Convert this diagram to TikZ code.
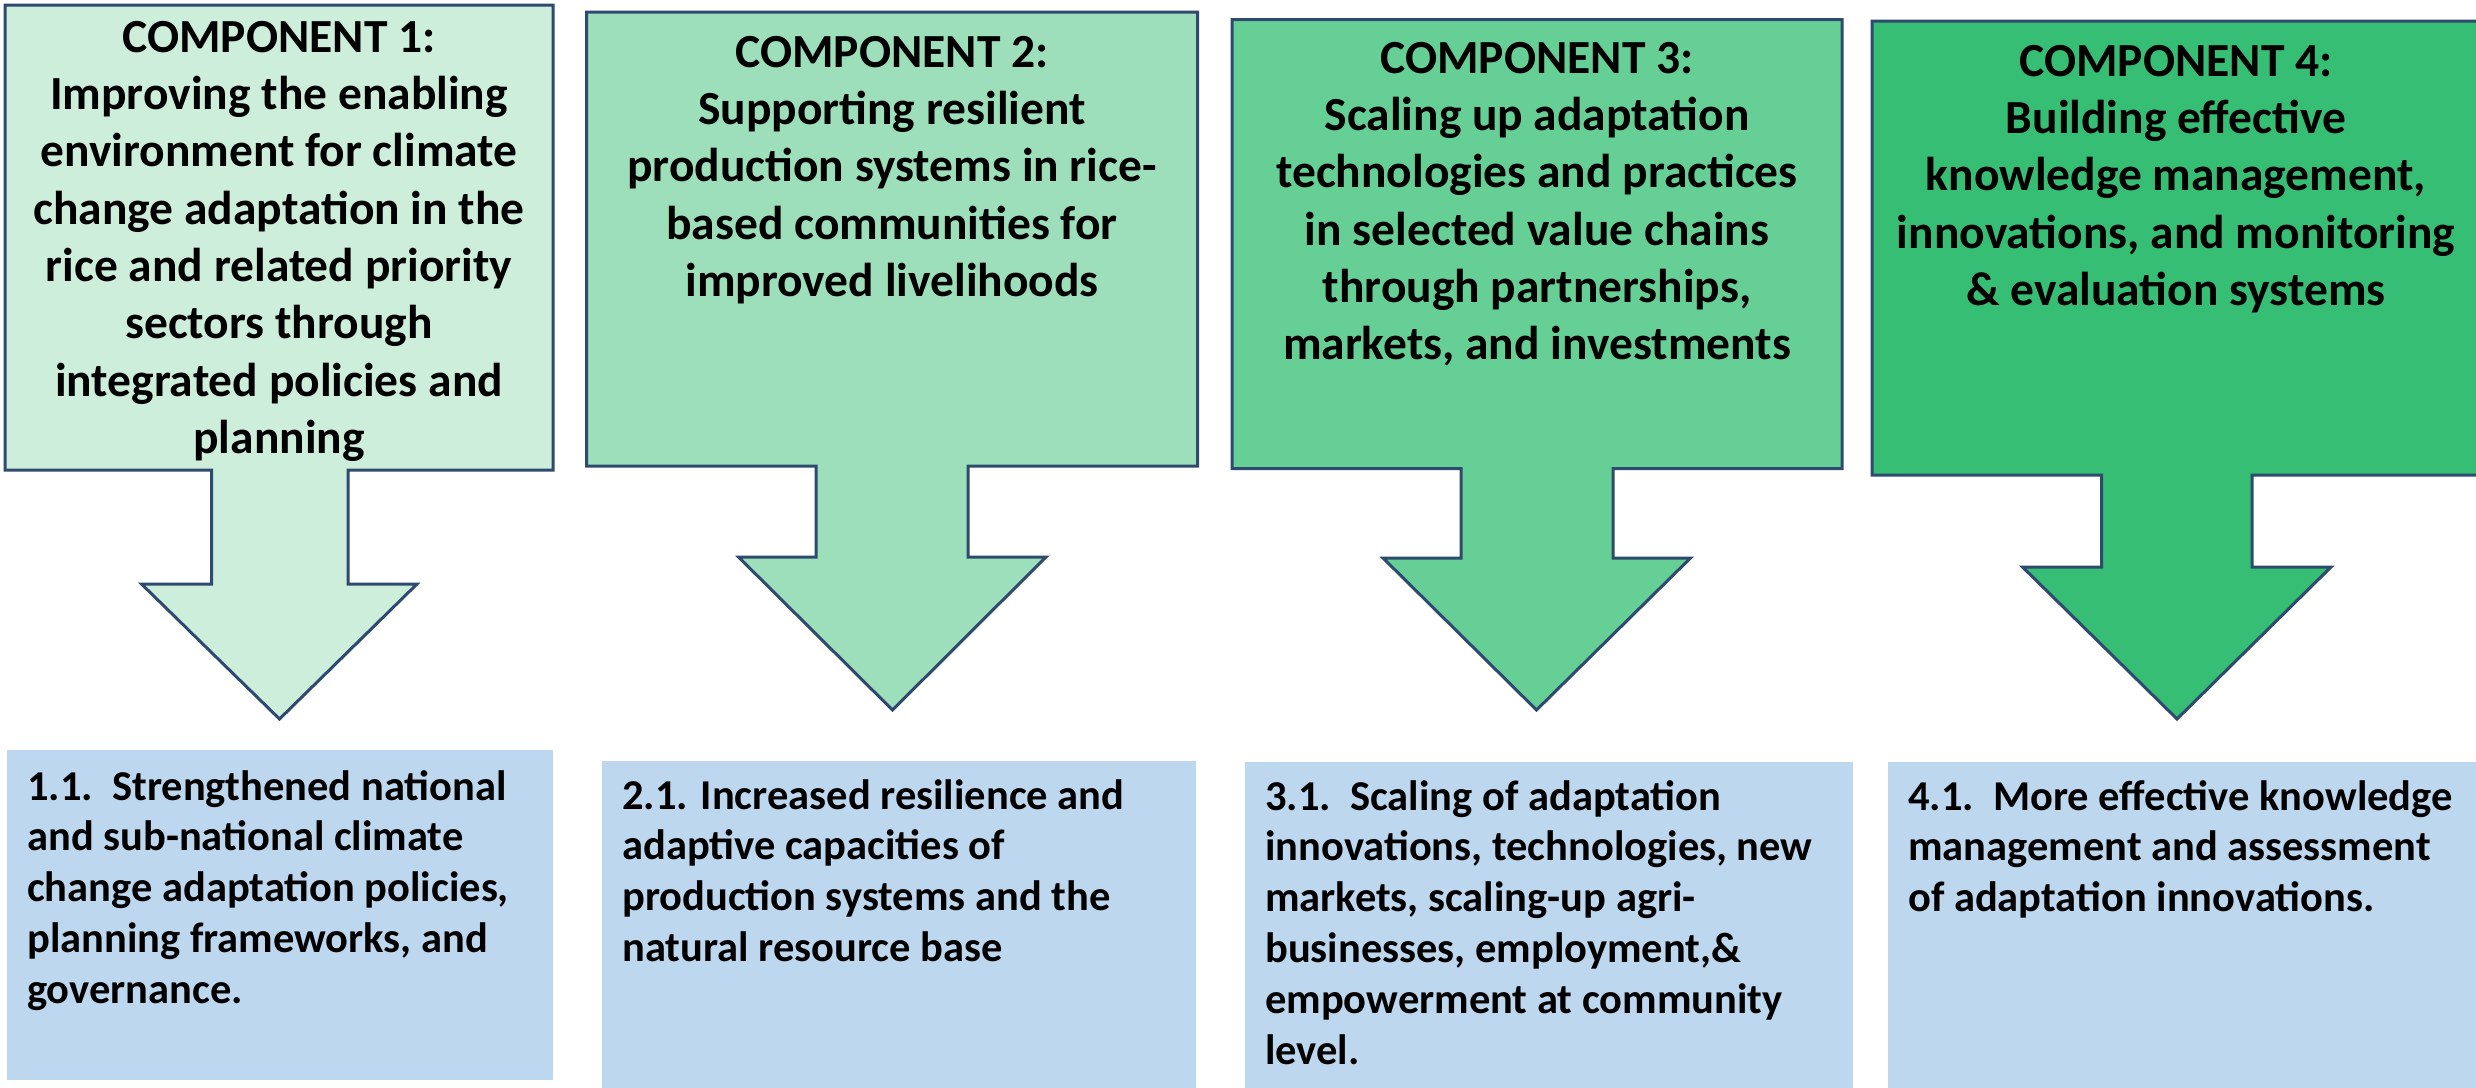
\documentclass[tikz,border=0pt]{standalone}
\usepackage{fontspec}
\setmainfont{Carlito}
\definecolor{bordc}{HTML}{2E4A6E}
\definecolor{cA}{HTML}{CDEEDB}
\definecolor{cB}{HTML}{9CDFBA}
\definecolor{cC}{HTML}{66CF95}
\definecolor{cD}{HTML}{35BE74}
\definecolor{resc}{HTML}{BDD7EE}
\begin{document}
\begin{tikzpicture}[x=1pt,y=-1pt,
  comp/.style={draw=bordc, line width=3pt, line join=miter},
  ctext/.style={font=\bfseries\fontsize{47.5}{57.3}\selectfont, align=center, inner sep=0pt, anchor=north},
  rtext/.style={font=\bfseries\fontsize{42.5}{50.8}\selectfont, align=left, inner sep=0pt, anchor=north west}]
\useasboundingbox (0,0) rectangle (2476,1087);
% component callouts
\draw[comp, fill=cA] (5,5) -- (553,5) -- (553,470) -- (348,470) -- (348,584) -- (417,584) -- (279.5,719) -- (141.5,584) -- (211.5,584) -- (211.5,470) -- (5,470) -- cycle;
\draw[comp, fill=cB] (586.5,12) -- (1197.5,12) -- (1197.5,466) -- (968,466) -- (968,557) -- (1046,557) -- (892.5,710) -- (738.5,557) -- (816,557) -- (816,466) -- (586.5,466) -- cycle;
\draw[comp, fill=cC] (1232,19.5) -- (1842,19.5) -- (1842,468.5) -- (1613,468.5) -- (1613,558) -- (1690.5,558) -- (1536.5,710) -- (1383,558) -- (1461,558) -- (1461,468.5) -- (1232,468.5) -- cycle;
\draw[comp, fill=cD] (1872,21) -- (2482,21) -- (2482,475) -- (2252,475) -- (2252,567) -- (2331,567) -- (2177,719) -- (2022.5,567) -- (2101.5,567) -- (2101.5,475) -- (1872,475) -- cycle;
% result boxes
\fill[resc] (7,750) rectangle (553,1080);
\fill[resc] (602,761) rectangle (1195.5,1090);
\fill[resc] (1245,762) rectangle (1852.5,1090);
\fill[resc] (1888,762) rectangle (2480,1090);
% component texts
\node[ctext] (c1) at (279,21) {COMPONENT 1:\\Improving the enabling\\environment for climate\\change adaptation in the\\rice and related priority\\sectors through\\integrated policies and\\planning};
\node[ctext] (c2) at (892,36) {COMPONENT 2:\\Supporting resilient\\production systems in rice-\\based communities for\\improved livelihoods};
\node[ctext] (c3) at (1537,42) {COMPONENT 3:\\Scaling up adaptation\\technologies and practices\\in selected value chains\\through partnerships,\\markets, and investments};
\node[ctext] (c4) at (2176,45) {COMPONENT 4:\\Building effective\\knowledge management,\\innovations, and monitoring\\\& evaluation systems};
% result texts
\node[rtext] (r1) at (27,770) {1.1.\ \ Strengthened national\\and sub-national climate\\change adaptation policies,\\planning frameworks, and\\governance.};
\node[rtext] (r2) at (622,779) {2.1. Increased resilience and\\adaptive capacities of\\production systems and the\\natural resource base};
\node[rtext] (r3) at (1265,780) {3.1.\ \ Scaling of adaptation\\innovations, technologies, new\\markets, scaling-up agri-\\businesses, employment,\&\\empowerment at community\\level.};
\node[rtext] (r4) at (1908,780) {4.1.\ \ More effective knowledge\\management and assessment\\of adaptation innovations.};
\end{tikzpicture}
\end{document}
